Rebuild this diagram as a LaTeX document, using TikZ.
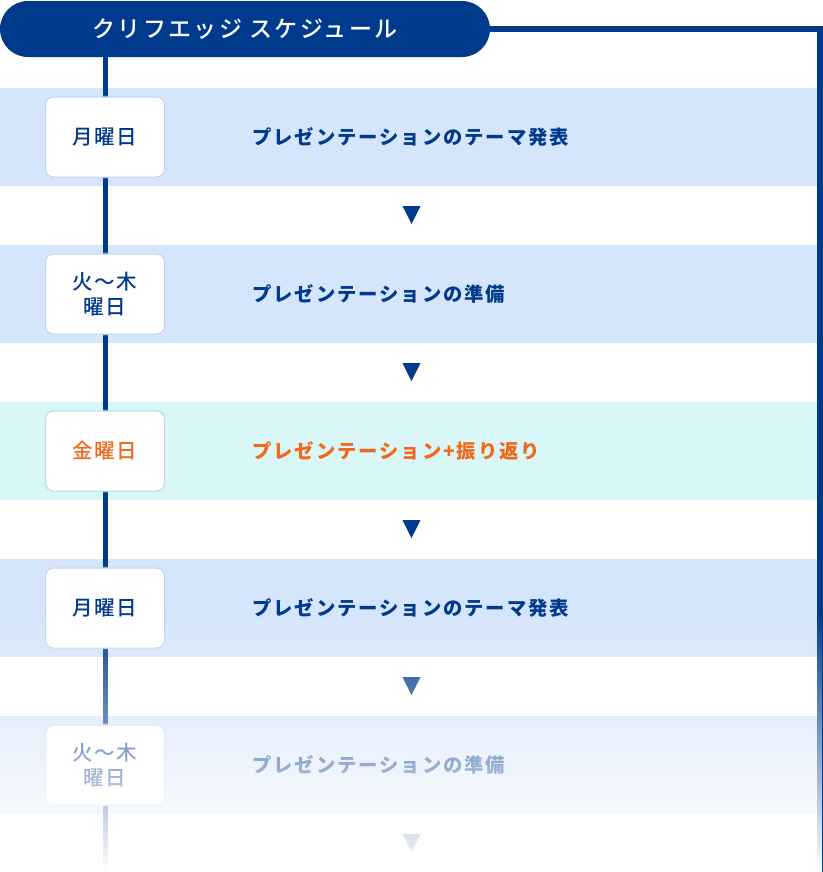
\documentclass[tikz,border=0pt]{standalone}
\usepackage{fontspec}
\usetikzlibrary{fadings}
\newfontfamily\jptitle[LetterSpace=10]{Noto Sans CJK JP Medium}
\newfontfamily\jpcard[LetterSpace=6]{Noto Sans CJK JP Medium}
\newfontfamily\jpdesc[LetterSpace=10]{Noto Sans CJK JP}
\definecolor{dblue}{HTML}{003A8C}
\definecolor{bandblue}{HTML}{D5E5FB}
\definecolor{bandcyan}{HTML}{D8F7F6}
\definecolor{cardborder}{HTML}{BCD6F2}
\definecolor{cardbordercyan}{HTML}{B2DFE8}
\definecolor{orng}{HTML}{F4661B}
\tikzfading[name=fadeout, top color=transparent!100, bottom color=transparent!0]
\tikzset{
  x=0.75pt, y=-0.75pt,
  titlebox/.style={fill=dblue, rounded corners=21pt, minimum width=367.5pt, minimum height=42pt,
    inner sep=0pt, text=white, font=\jptitle\fontsize{17.25}{20}\selectfont},
  card/.style={draw=cardborder, line width=0.75pt, fill=white, rounded corners=6pt,
    minimum width=89.25pt, minimum height=60pt, inner sep=0pt, align=center,
    text=dblue, font=\jpcard\fontsize{15.4}{18.75}\selectfont},
  cardshadow/.style={draw=cardborder!60, line width=2pt, opacity=0.5, rounded corners=6pt,
    minimum width=89.25pt, minimum height=60pt, inner sep=0pt},
  desc/.style={anchor=west, inner sep=0pt, text=dblue, font=\jpdesc\fontsize{14.5}{16}\selectfont\bfseries},
  timeline/.style={draw=dblue, line width=3.75pt},
  tri/.style={fill=dblue},
}
\begin{document}
\begin{tikzpicture}
\useasboundingbox (0,0) rectangle (823,872);
% bands
\fill[bandblue] (0,88) rectangle (820,186);
\fill[bandblue] (0,245) rectangle (820,343);
\fill[bandcyan] (0,402) rectangle (820,500);
\fill[bandblue] (0,559) rectangle (820,657);
\fill[bandblue] (0,716) rectangle (820,814);
% title
\node[titlebox] (title) at (245,29) {クリフエッジ スケジュール};
\coordinate (ltop) at (105,50);
\coordinate (lbot) at (105,872);
\coordinate (rcorner) at (820,29);
\coordinate (rbot) at (820,872);
\draw[timeline] (ltop) -- (lbot);
\draw[line width=4pt, draw=dblue] (title.east) -- (rcorner);
\draw[line width=4.5pt, draw=dblue] ([yshift=2pt]rcorner) -- (rbot);
% cards
\foreach \yy in {137,294,451,608,765} {
  \node[cardshadow] at (105,\yy) {};
}
\node[card] (c1) at (105,137) {月曜日};
\node[card] (c2) at (105,294) {火〜木\\曜日};
\node[card, draw=cardbordercyan, text=orng] (c3) at (105,451) {金曜日};
\node[card] (c4) at (105,608) {月曜日};
\node[card] (c5) at (105,765) {火〜木\\曜日};
% descriptions
\node[desc] (d1) at (252,137) {プレゼンテーションのテーマ発表};
\node[desc] (d2) at (252,294) {プレゼンテーションの準備};
\node[desc, text=orng] (d3) at (252,451) {プレゼンテーション+振り返り};
\node[desc] (d4) at (252,608) {プレゼンテーションのテーマ発表};
\node[desc] (d5) at (252,765) {プレゼンテーションの準備};
% arrows
\foreach \yy in {206,363,520,677,834} {
  \fill[tri] (402.5,\yy) -- (420.5,\yy) -- (411.5,\yy+18) -- cycle;
}
% fade-out
\fill[white, path fading=fadeout] (0,610) rectangle (823,872);
\end{tikzpicture}
\end{document}
